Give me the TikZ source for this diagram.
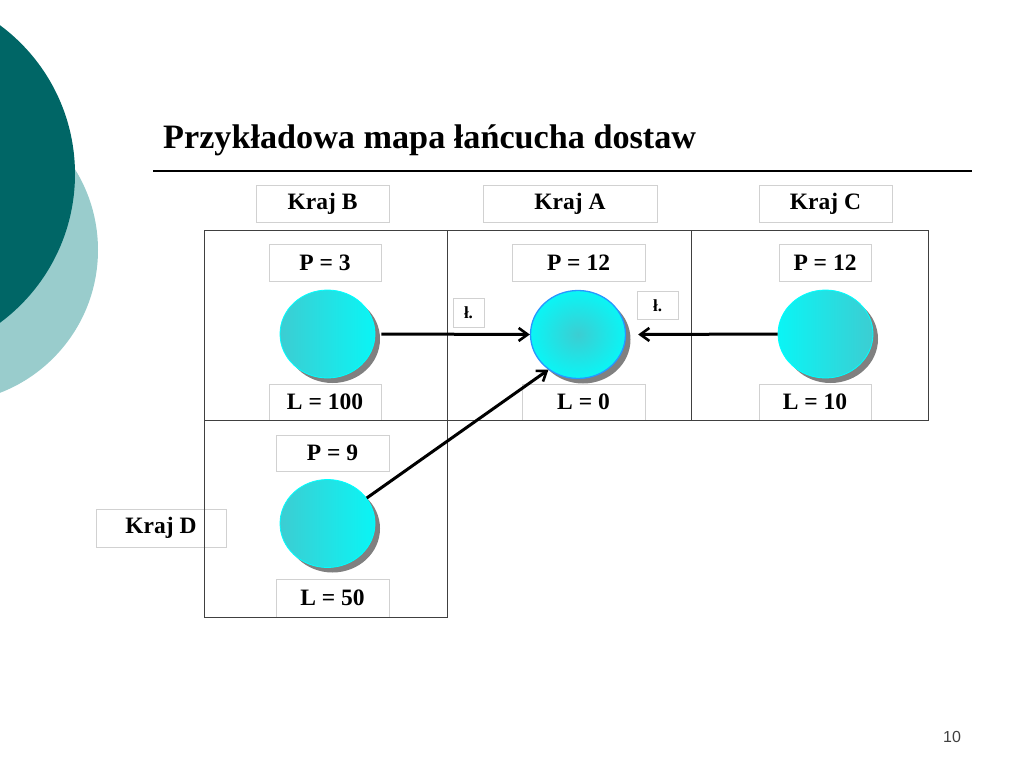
\documentclass[tikz,border=0pt]{standalone}
\usepackage{fontspec}
\setmainfont{Liberation Serif}
\setsansfont{Liberation Sans}
\usetikzlibrary{shapes.geometric,shadows,arrows.meta}
\definecolor{darkteal}{RGB}{0,102,102}
\definecolor{lightteal}{RGB}{153,204,204}
\definecolor{balldark}{RGB}{60,205,210}
\definecolor{ballbright}{RGB}{10,245,245}
\definecolor{ballrim}{RGB}{0,255,255}
\definecolor{ballblue}{RGB}{40,150,255}
\begin{document}
\begin{tikzpicture}[x=1pt,y=-1pt,
  lbl/.style={draw=black!18, line width=0.8pt, inner sep=0pt,
              font=\fontsize{23.5}{26}\selectfont\bfseries},
  small/.style={draw=black!18, line width=0.8pt, inner sep=0pt,
              font=\fontsize{17}{19}\selectfont\bfseries},
  cell/.style={draw=black!75, line width=1pt},
  ball/.style={ellipse, minimum width=95pt, minimum height=88pt, inner sep=0pt,
               draw=ballrim, line width=0.8pt,
               drop shadow={shadow xshift=5pt, shadow yshift=-5pt, fill=black!50, opacity=1}},
  flow/.style={line width=3pt, -{Straight Barb[length=9pt,width=13pt,line width=2.6pt]}}
]
\useasboundingbox (0,0) rectangle (1024,768);
\clip (0,0) rectangle (1024,768);
% decorative circles
\fill[lightteal] (-55,250) circle[radius=153];
\fill[darkteal] (-110,174) circle[radius=185];
% title
\node[font=\fontsize{34.2}{37}\selectfont\bfseries, anchor=base west, inner sep=0pt] (title) at (163,148) {Przykładowa mapa łańcucha dostaw};
\draw[line width=1.3pt] (153,171) -- (972,171);
% country labels
\node[lbl, minimum width=133pt, minimum height=37pt] (kb) at (322.5,203.5) {Kraj B};
\node[lbl, minimum width=174pt, minimum height=37pt] (ka) at (570,203.5) {Kraj A};
\node[lbl, minimum width=133pt, minimum height=37pt] (kc) at (825.5,203.5) {Kraj C};
\node[lbl, minimum width=130pt, minimum height=38pt] (kd) at (161,528) {Kraj D};
% P boxes
\node[lbl, minimum width=112pt, minimum height=37pt] (pb) at (325,262.5) {P = 3};
\node[lbl, minimum width=133pt, minimum height=37pt] (pa) at (578.5,262.5) {P = 12};
\node[lbl, minimum width=92pt, minimum height=37pt] (pc) at (825,262.5) {P = 12};
\node[lbl, minimum width=113pt, minimum height=36pt] (pd) at (332.5,453) {P = 9};
% L boxes
\node[lbl, minimum width=112pt, minimum height=36pt] (lb) at (325,402) {L = 100};
\node[lbl, minimum width=123pt, minimum height=36pt] (la) at (583.5,402) {L = 0};
\node[lbl, minimum width=112pt, minimum height=36pt] (lc) at (815,402) {L = 10};
\node[lbl, minimum width=113pt, minimum height=38pt] (ld) at (332.5,598) {L = 50};
% small labels
\node[small, minimum width=31pt, minimum height=29pt] (t1) at (468.5,312.5) {ł.};
\node[small, minimum width=41pt, minimum height=28pt] (t2) at (657.5,305.5) {ł.};
% grid
\draw[cell] (204,230) rectangle (928,420);
\draw[cell] (447,230) -- (447,420);
\draw[cell] (691,230) -- (691,420);
\draw[cell] (204,420) rectangle (447,617);
% balls
\node[ball, left color=balldark, right color=ballbright] (bb) at (327.5,334) {};
\node[ball, inner color=balldark, outer color=ballbright, draw=ballblue, line width=1.3pt] (ba) at (578,334.5) {};
\node[ball, left color=ballbright, right color=balldark] (bc) at (825.5,334) {};
\node[ball, left color=balldark, right color=ballbright] (bd) at (327.5,523.5) {};
% flows
\draw[flow] ([xshift=6pt]bb.east) -- (ba.west);
\draw[flow] (bc.west) -- ([xshift=12pt]ba.east);
\draw[flow] (bd.33) -- (ba.230);
% page number
\node[font=\sffamily\fontsize{16}{18}\selectfont, text=black!75] (pg) at (952,737) {10};
\end{tikzpicture}
\end{document}
